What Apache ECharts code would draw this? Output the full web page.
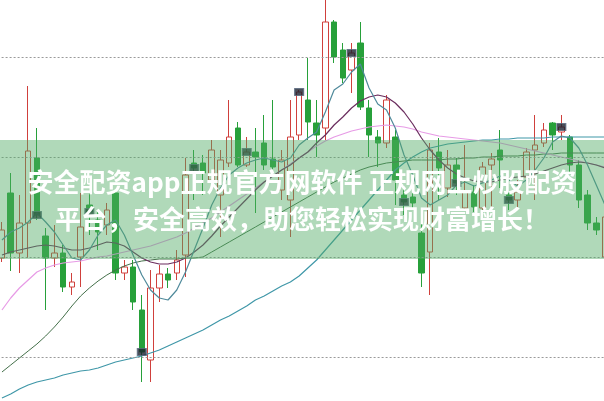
<!DOCTYPE html>
<html>
<head>
<meta charset="utf-8">
<script src="https://cdn.jsdelivr.net/npm/echarts@6/dist/echarts.min.js"></script>
<style>
html,body{margin:0;padding:0;background:#fff;}
#chart{width:604px;height:401px;}
</style>
</head>
<body>
<div id="chart"></div>
<script>
// ---- data ----
const categories = Array.from({length: 70}, (_, i) => 'D' + (i + 1));
const opens  = [19.9,26.4,20.4,23.4,29.9,22.1,19.9,20.4,17.0,20.0,25.2,23.7,23.2,26.4,18.4,19.0,14.7,9.7,16.9,18.3,18.4,20.2,29.4,29.4,27.7,26.2,29.4,32.9,29.2,30.5,31.4,29.8,26.7,25.7,32.2,35.7,33.4,32.9,43.5,40.7,38.7,41.4,34.9,32.0,31.4,32.0,26.2,26.0,22.4,20.5,30.5,26.9,29.2,24.9,26.5,24.9,29.2,30.7,26.2,25.7,28.0,30.7,31.4,33.4,32.5,32.0,29.2,26.2,23.4,20.0];
const closes = [22.7,20.4,23.4,30.6,24.2,19.9,20.4,17.0,17.5,23.0,24.5,22.5,24.7,18.4,19.0,15.5,10.5,16.9,18.3,17.7,19.7,28.2,28.9,28.4,30.7,29.7,32.0,29.2,30.5,30.0,29.2,29.0,29.7,32.0,36.5,33.5,32.2,43.5,40.0,37.9,40.4,35.0,32.2,31.4,35.7,27.7,25.5,25.4,18.4,30.7,28.9,29.2,27.4,26.5,25.0,29.0,29.8,29.7,25.7,26.5,30.5,31.2,32.7,32.2,33.0,29.2,25.7,23.4,22.7,24.0];
const lows   = [19.5,18.6,18.4,19.9,23.7,14.7,19.0,16.5,16.2,17.0,22.2,20.7,22.2,17.7,17.7,14.7,7.5,7.5,15.5,16.9,17.7,18.0,25.7,26.2,26.7,22.0,29.0,29.0,29.0,24.4,28.7,28.7,25.7,22.0,31.7,31.7,30.0,31.7,39.4,37.4,36.4,34.7,30.0,29.0,30.9,25.2,24.2,24.7,17.0,16.2,25.7,26.0,26.2,24.7,24.5,24.5,24.9,26.9,24.7,25.0,26.7,25.7,31.0,30.7,31.7,28.5,24.9,22.7,22.2,19.7];
const highs  = [23.5,28.4,26.2,37.1,32.9,22.9,23.2,21.2,18.4,26.4,26.5,24.5,25.4,26.7,19.7,19.7,16.2,18.7,19.2,18.9,20.7,29.9,30.7,30.2,31.7,30.7,35.7,33.5,32.0,32.9,34.2,35.7,30.7,35.7,36.7,39.9,35.7,46.2,43.7,41.4,41.4,43.5,35.7,32.7,36.2,32.7,27.2,26.7,23.9,31.4,31.9,30.7,29.9,31.2,27.2,29.5,30.4,32.7,27.7,27.7,30.9,34.2,33.4,33.5,34.2,32.2,29.7,26.7,24.0,24.7];

const maShort  = [21.7,22.5,22.9,23.5,24.4,23.5,22.5,21.2,19.9,19.7,20.7,22.2,23.2,23.7,22.2,20.2,18.2,16.7,15.9,15.7,16.7,18.5,20.7,22.9,25.2,26.9,28.2,28.9,29.4,29.7,29.9,29.7,29.5,29.9,31.2,31.9,32.5,34.5,36.7,37.3,38.5,39.3,36.9,35.3,34.7,32.9,30.2,28.2,25.9,25.2,25.7,26.2,27.2,27.5,27.1,27.4,27.7,28.1,27.7,27.1,27.7,28.7,29.9,31.5,32.1,31.9,30.9,29.2,27.2,25.2];
const maPurple = [20.2,20.5,20.7,20.9,21.1,21.2,21.1,20.9,20.7,20.7,20.9,21.2,21.5,21.4,21.1,20.5,19.9,19.5,19.3,19.3,19.5,19.9,20.5,21.2,22.1,23.1,24.0,24.9,25.8,26.7,27.5,28.1,28.7,29.2,29.9,30.5,31.4,32.2,33.2,34.0,34.9,35.6,36.0,36.2,36.0,35.4,34.5,33.3,31.9,30.7,29.7,28.9,28.3,27.9,27.6,27.5,27.5,27.7,27.9,28.0,28.1,28.3,28.6,28.9,29.2,29.4,29.5,29.4,29.2,28.9];
const maPink   = [14.7,15.9,16.9,17.7,18.5,18.9,19.2,19.4,19.5,19.6,19.8,20.0,20.1,20.3,20.5,20.7,20.9,21.1,21.4,21.7,22.0,22.4,22.9,23.4,23.9,24.5,25.1,25.7,26.3,26.9,27.5,28.1,28.7,29.3,29.9,30.5,31.1,31.6,32.0,32.3,32.6,32.8,33.0,33.1,33.2,33.1,33.0,32.8,32.5,32.3,32.1,32.0,31.9,31.8,31.7,31.6,31.5,31.4,31.2,31.0,30.8,30.6,30.4,30.2,30.0,29.8,29.6,29.4,29.2,29.0];
const maGreen  = [8.5,9.2,9.9,10.6,11.3,12.1,13.0,14.0,15.1,16.1,16.9,17.6,18.2,18.7,19.1,19.4,19.6,19.7,19.8,19.8,19.8,19.9,19.9,20.0,20.5,21.0,21.5,22.0,22.5,23.0,23.5,24.0,24.5,25.0,25.5,26.0,26.5,27.0,27.5,27.9,28.3,28.7,29.0,29.2,29.4,29.5,29.6,29.7,29.7,29.7,29.7,29.8,29.8,29.9,29.9,30.0,30.0,30.1,30.1,30.1,30.2,30.2,30.3,30.3,30.4,30.4,30.4,30.4,30.4,30.4];
const maLong   = [5.9,6.3,6.8,7.2,7.5,7.7,7.9,8.2,8.4,8.6,8.7,8.9,9.2,9.5,9.7,9.9,10.1,10.4,10.7,11.1,11.5,11.9,12.3,12.7,13.2,13.7,14.1,14.6,15.1,15.7,16.1,16.6,17.1,17.5,18.1,18.9,19.7,20.7,21.7,22.7,23.7,24.7,25.7,26.7,27.7,28.7,29.4,30.0,30.5,30.9,31.1,31.3,31.4,31.5,31.6,31.7,31.7,31.8,31.8,31.9,31.9,31.9,31.9,32.0,32.0,32.0,32.0,32.0,32.0,32.0];

const markerIdx = [4,10,16,22,28,34,40,46,52,58,64];
const gridLevels = [10, 20, 30, 40];
const yMin = 5.6, yMax = 45.7;

const bannerLines = ['安全配资app正规官方网软件 正规网上炒股配资', '平台，安全高效，助您轻松实现财富增长！'];

// ---- build ----
const ohlc = opens.map((o, i) => [o, closes[i], lows[i], highs[i]]);
const markers = markerIdx.map(i => [i, closes[i]]);

const chart = echarts.init(document.getElementById('chart'), null, {renderer: 'canvas'});
function line(name, data, color, width) {
  return {name, type: 'line', data, symbol: 'none', smooth: false,
    lineStyle: {color, width: width || 1}, z: 3, silent: true};
}
chart.setOption({
  animation: false,
  backgroundColor: '#fff',
  grid: {left: -2.4, right: -5.4, top: 0, bottom: 0, containLabel: false, outerBoundsMode: 'none'},
  xAxis: {type: 'category', data: categories, boundaryGap: true,
    axisLine: {show: false}, axisTick: {show: false}, axisLabel: {show: false}, splitLine: {show: false}},
  yAxis: {type: 'value', min: yMin, max: yMax, scale: true,
    axisLine: {show: false}, axisTick: {show: false}, axisLabel: {show: false},
    splitLine: {show: false}},
  series: [
    line('long', maLong, '#3f97a8', 1.2),
    line('green', maGreen, '#44704a', 1),
    line('pink', maPink, '#e79be6', 1.2),
    line('purple', maPurple, '#6a2d5e', 1.2),
    {type: 'candlestick', data: ohlc, barWidth: 6, z: 2,
      itemStyle: {color: 'rgba(255,255,255,0)', color0: '#27a03a',
        borderColor: '#d0403c', borderColor0: '#27a03a', borderWidth: 1},
      markLine: {silent: true, symbol: 'none', label: {show: false},
        lineStyle: {color: '#9a9a9a', type: [2, 2], width: 1},
        data: gridLevels.map(v => ({yAxis: v}))}},
    line('short', maShort, '#4f8a9b', 1.2),
    {type: 'scatter', data: markers, symbol: 'rect', symbolSize: [9, 7], z: 5,
      itemStyle: {color: '#1c2230', borderColor: '#5a6a80', borderWidth: 1}}
  ],
  graphic: [
    {type: 'rect', z: 100, shape: {x: 0, y: 140, width: 604, height: 119},
      style: {fill: 'rgba(80,170,100,0.45)'}},
    {type: 'text', z: 101, x: 302, y: 182,
      style: {text: bannerLines[0], align: 'center', verticalAlign: 'middle', fill: '#ffffff',
        font: 'bold 26px "Noto Sans CJK SC", "Noto Sans", sans-serif',
        shadowColor: 'rgba(0,0,0,0.22)', shadowBlur: 2}},
    {type: 'text', z: 101, x: 302, y: 219,
      style: {text: bannerLines[1], align: 'center', verticalAlign: 'middle', fill: '#ffffff',
        font: 'bold 26px "Noto Sans CJK SC", "Noto Sans", sans-serif',
        shadowColor: 'rgba(0,0,0,0.22)', shadowBlur: 2}}
  ]
});
</script>
</body>
</html>
